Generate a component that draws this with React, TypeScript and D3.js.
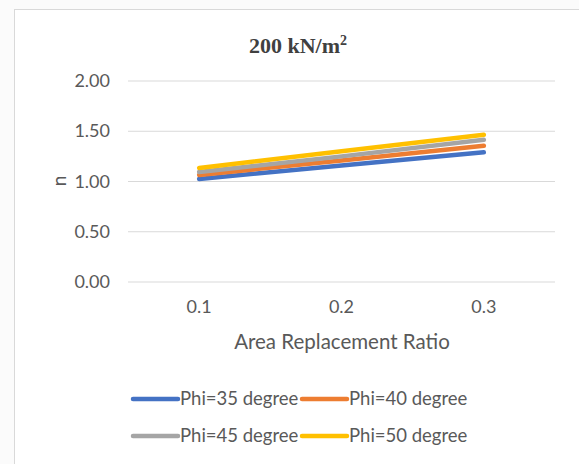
import React from "react";
import * as d3 from "d3";

const categories = ["0.1", "0.2", "0.3"];
const seriesNames = ["Phi=35 degree", "Phi=40 degree", "Phi=45 degree", "Phi=50 degree"];
const phi35 = [1.025, 1.16, 1.29];
const phi40 = [1.065, 1.21, 1.355];
const phi45 = [1.095, 1.25, 1.415];
const phi50 = [1.135, 1.3, 1.465];
const yTicks = [0, 0.5, 1, 1.5, 2];
const colors = ["#4472C4", "#ED7D31", "#A5A5A5", "#FFC000"];

const W = 579;
const H = 464;

export default function App() {
  const x = d3.scaleBand().domain(categories).range([128, 555]);
  const y = d3.scaleLinear().domain([0, 2]).range([282, 81]);
  const series = [phi35, phi40, phi45, phi50];
  const line = d3
    .line<number>()
    .x((_, i) => (x(categories[i]) as number) + x.bandwidth() / 2)
    .y((d) => y(d));
  const font = "Lato, 'Open Sans', sans-serif";
  const textColor = "#595959";
  const legendPos = [
    [133, 399],
    [302, 399],
    [133, 436],
    [302, 436],
  ];
  return (
    <svg
      width={W}
      height={H}
      style={{ position: "absolute", left: 0, top: 0, display: "block" }}
    >
      <rect x={0} y={0} width={W} height={H} fill="#fbfbfb" />
      <rect x={14.5} y={9.5} width={W} height={H} fill="#ffffff" stroke="#d9d9d9" strokeWidth={1} />
      <text
        x={298}
        y={53}
        textAnchor="middle"
        fontFamily="'Liberation Serif', 'DejaVu Serif', serif"
        fontWeight="bold"
        fontSize={22}
        fill="#404040"
      >
        200 kN/m
        <tspan fontSize={14} dy={-8}>2</tspan>
      </text>
      {yTicks.map((t) => (
        <g key={t}>
          <line x1={128} x2={555} y1={y(t)} y2={y(t)} stroke="#d9d9d9" strokeWidth={1} />
          <text
            x={110}
            y={y(t) + 6}
            textAnchor="end"
            fontFamily={font}
            fontSize={18}
            fill={textColor}
          >
            {t.toFixed(2)}
          </text>
        </g>
      ))}
      {categories.map((c) => (
        <text
          key={c}
          x={(x(c) as number) + x.bandwidth() / 2}
          y={313}
          textAnchor="middle"
          fontFamily={font}
          fontSize={18}
          fill={textColor}
        >
          {c}
        </text>
      ))}
      <text x={342} y={349} textAnchor="middle" fontFamily={font} fontSize={20.5} fill={textColor}>
        Area Replacement Ratio
      </text>
      <text
        transform={`translate(66,181) rotate(-90)`}
        textAnchor="middle"
        fontFamily={font}
        fontSize={19}
        fill={textColor}
      >
        n
      </text>
      {series.map((s, i) => (
        <path
          key={seriesNames[i]}
          d={line(s) as string}
          fill="none"
          stroke={colors[i]}
          strokeWidth={4.5}
          strokeLinecap="round"
        />
      ))}
      {seriesNames.map((n, i) => (
        <g key={n}>
          <line
            x1={legendPos[i][0]}
            x2={legendPos[i][0] + 45}
            y1={legendPos[i][1]}
            y2={legendPos[i][1]}
            stroke={colors[i]}
            strokeWidth={4.5}
            strokeLinecap="round"
          />
          <text
            x={legendPos[i][0] + 47}
            y={legendPos[i][1] + 6}
            fontFamily={font}
            fontSize={18.5}
            fill={textColor}
          >
            {n}
          </text>
        </g>
      ))}
    </svg>
  );
}
